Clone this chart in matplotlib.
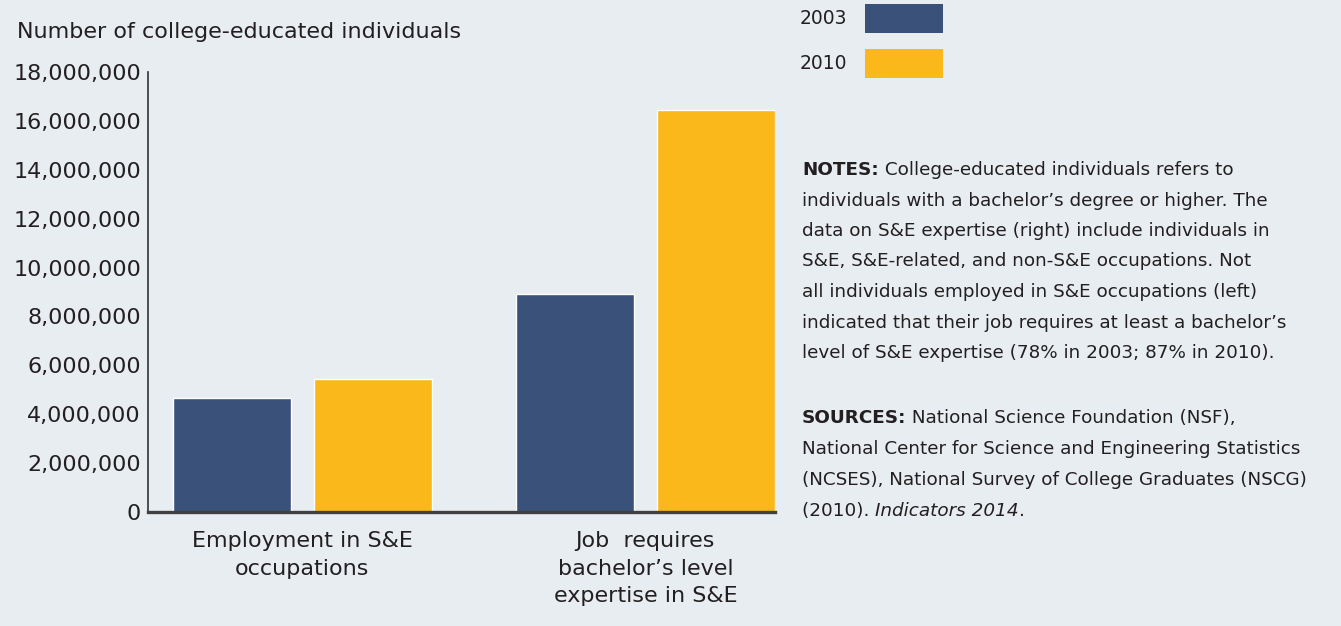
import numpy as np
import matplotlib
matplotlib.use("Agg")
import matplotlib.pyplot as plt
from matplotlib.patches import Patch

# data
categories = ["Employment in S&E\noccupations",
              "Job  requires\nbachelor\u2019s level\nexpertise in S&E"]
years = ["2003", "2010"]
vals_2003 = [4650000, 8920000]
vals_2010 = [5460000, 16460000]
yticks = [0, 2000000, 4000000, 6000000, 8000000, 10000000,
          12000000, 14000000, 16000000, 18000000]

bg = "#E8EDF1"
navy = "#3A5179"
gold = "#FAB81B"
txt = "#231F20"

plt.rcParams['font.family'] = ['DejaVu Sans']

fig = plt.figure(figsize=(13.41, 6.26), dpi=100, facecolor=bg)
ax = fig.add_axes([148/1341, 1-512/626, (775-148)/1341, 440/626])
ax.set_facecolor(bg)

x = np.arange(len(categories))
w = 0.344
off = 0.205
ax.bar(x - off, vals_2003, w, color=navy, edgecolor="white", linewidth=1, label=years[0])
ax.bar(x + off, vals_2010, w, color=gold, edgecolor="white", linewidth=1, label=years[1])

ax.set_xlim(-0.45, 1.378)
ax.set_ylim(0, 18000000)
ax.set_yticks(yticks)
ax.set_yticklabels([f"{v:,}" for v in yticks])
ax.set_xticks(x)
ax.set_xticklabels(categories, linespacing=1.46)
ax.tick_params(axis="y", length=0, pad=5, labelsize=16, labelcolor=txt)
ax.tick_params(axis="x", length=0, pad=14, labelsize=16, labelcolor=txt)

for s in ["top", "right"]:
    ax.spines[s].set_visible(False)
ax.spines["left"].set_color("#333333")
ax.spines["left"].set_linewidth(1.2)
ax.spines["bottom"].set_color("#404040")
ax.spines["bottom"].set_linewidth(2.4)

fig.text(17/1341, 1-32/626, "Number of college-educated individuals",
         fontsize=16, color=txt, va="center", ha="left")

# legend: label left of the box
handles = [Patch(facecolor=navy), Patch(facecolor=gold)]
fig.legend(handles, years, loc="upper left", bbox_to_anchor=(800/1341, 1-4/626),
           frameon=False, markerfirst=False, fontsize=13.5, handlelength=4.15,
           handleheight=2.0, handletextpad=0.95, labelspacing=0.85, borderpad=0,
           borderaxespad=0, labelcolor=txt)

notes = [
    [("NOTES:", "b"), (" College-educated individuals refers to", "n")],
    [("individuals with a bachelor\u2019s degree or higher. The", "n")],
    [("data on S&E expertise (right) include individuals in", "n")],
    [("S&E, S&E-related, and non-S&E occupations. Not", "n")],
    [("all individuals employed in S&E occupations (left)", "n")],
    [("indicated that their job requires at least a bachelor\u2019s", "n")],
    [("level of S&E expertise (78% in 2003; 87% in 2010).", "n")],
]
sources = [
    [("SOURCES:", "b"), (" National Science Foundation (NSF),", "n")],
    [("National Center for Science and Engineering Statistics", "n")],
    [("(NCSES), National Survey of College Graduates (NSCG)", "n")],
    [("(2010). ", "n"), ("Indicators 2014", "i"), (".", "n")],
]


def draw_lines(lines, ytop, step, size=13.2):
    # each line may mix bold / italic pieces, chained one after another
    for i, parts in enumerate(lines):
        y0 = 1 - (ytop + step*i)/626
        prev = None
        for s, style in parts:
            kw = dict(fontsize=size, color=txt,
                      fontweight="bold" if style == "b" else "normal",
                      fontstyle="italic" if style == "i" else "normal")
            if prev is None:
                prev = fig.text(802/1341, y0, s, ha="left", va="center", **kw)
            else:
                prev = ax.annotate(s, xy=(1, 0), xycoords=prev, ha="left", va="bottom",
                                   annotation_clip=False, **kw)


draw_lines(notes, 170, 30.5)
draw_lines(sources, 418, 31)

fig.savefig("out.png", dpi=100, facecolor=bg)
